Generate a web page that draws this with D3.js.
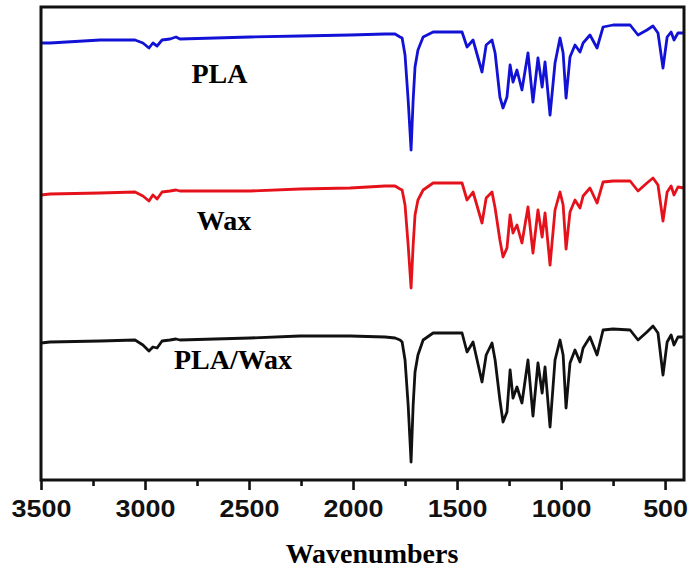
<!DOCTYPE html>
<html>
<head>
<meta charset="utf-8">
<script src="https://cdn.jsdelivr.net/npm/d3@7"></script>
<style>
  body { margin: 0; background: #fff; }
</style>
</head>
<body>
<div id="app"></div>
<script>
// wavenumbers (cm-1), shared by the three spectra
const wavenumbers = [3500, 3457, 3216, 3048, 3010, 2981, 2962, 2942, 2918, 2880, 2851, 2832, 2495, 2255, 2014,
  1846, 1798, 1774, 1764, 1750, 1735, 1721, 1711, 1702, 1688, 1663, 1615, 1476, 1452, 1423, 1380, 1360, 1332,
  1317, 1294, 1279, 1260, 1245, 1231, 1212, 1188, 1159, 1135, 1111, 1091, 1077, 1053, 1029, 1005, 990, 976,
  957, 933, 909, 894, 861, 827, 798, 750, 668, 630, 587, 558, 534, 510, 490, 471, 457, 438, 409]

// transmittance, arbitrary units (stacked)
const pla = [437, 437, 440, 440, 437, 432, 437, 434, 440, 441, 443, 441, 443, 444, 445,
  446, 446, 443, 442, 425, 380, 330, 380, 413, 430, 443, 448, 448, 433, 440, 408, 435, 440,
  427, 383, 372, 383, 415, 398, 410, 390, 427, 378, 422, 393, 418, 365, 417, 442, 427, 382,
  423, 435, 428, 437, 445, 432, 453, 455, 455, 445, 450, 454, 447, 412, 443, 448, 440, 447, 447]

const wax = [285, 286, 287, 288, 284, 279, 285, 281, 288, 289, 290, 289, 289, 291, 292,
  294, 294, 291, 290, 275, 235, 192, 235, 265, 280, 290, 297, 297, 280, 288, 257, 282, 288,
  272, 240, 223, 232, 265, 247, 255, 237, 273, 227, 270, 243, 267, 215, 270, 288, 275, 231,
  268, 280, 272, 284, 292, 277, 298, 299, 299, 289, 297, 302, 295, 259, 288, 294, 285, 293, 292]

const plaWax = [137, 138, 139, 140, 135, 129, 133, 132, 139, 140, 141, 140, 142, 144, 144,
  143, 142, 140, 138, 120, 75, 18, 75, 108, 125, 140, 147, 147, 128, 138, 98, 125, 137,
  120, 80, 58, 68, 110, 82, 93, 77, 120, 64, 117, 87, 113, 53, 120, 140, 125, 72,
  117, 130, 118, 132, 143, 125, 150, 151, 150, 140, 148, 154, 147, 105, 138, 145, 135, 143, 143]

const seriesNames = ['PLA', 'Wax', 'PLA/Wax']
const majorTicks = [3500, 3000, 2500, 2000, 1500, 1000, 500]
const minorTicks = [3250, 2750, 2250, 1750, 1250, 750]

const w = 693
const h = 571

const xScale = d3.scaleLinear()
                  .domain([3500, 409])
                  .range([41, 684])

const yScale = d3.scaleLinear()
                  .domain([0, 473])
                  .range([480, 7])

const svg = d3.select('#app')
  .append('svg')
  .attr('width', w)
  .attr('height', h)
  .style('display', 'block')

const series = [
  { name: seriesNames[0], values: pla, color: '#1212d6', at: [2642, 397] },
  { name: seriesNames[1], values: wax, color: '#e5121b', at: [2620, 250] },
  { name: seriesNames[2], values: plaWax, color: '#111111', at: [2577, 111] }
]

const line = d3.line()
  .x(d => xScale(d[0]))
  .y(d => yScale(d[1]))

svg.selectAll('path.trace')
  .data(series)
  .enter()
  .append('path')
  .attr('class', 'trace')
  .attr('d', s => line(wavenumbers.map((wn, i) => [wn, s.values[i]])))
  .attr('fill', 'none')
  .attr('stroke', s => s.color)
  .attr('stroke-width', 2.8)
  .attr('stroke-linejoin', 'round')

// frame
svg.append('rect')
  .attr('x', xScale.range()[0])
  .attr('y', yScale.range()[1])
  .attr('width', xScale.range()[1] - xScale.range()[0])
  .attr('height', yScale.range()[0] - yScale.range()[1])
  .attr('fill', 'none')
  .attr('stroke', '#111')
  .attr('stroke-width', 3)

const xAxis = d3.axisBottom(xScale)
  .tickValues(majorTicks)
  .tickFormat(d3.format('d'))
  .tickSize(10)
  .tickSizeOuter(0)
  .tickPadding(11)

const gx = svg.append('g')
  .attr('id', 'x-axis')
  .attr('transform', 'translate(0, ' + yScale(0) + ')')
  .call(xAxis)

gx.select('.domain').remove()
gx.selectAll('line').attr('stroke', '#111').attr('stroke-width', 2.6)
gx.selectAll('text')
  .attr('fill', '#111')
  .style('font-family', '"Liberation Sans", Arial, sans-serif')
  .style('font-weight', 'bold')
  .style('font-size', '23px')
  .attr('transform', 'scale(1.17, 1)')

const gMinor = svg.append('g')
  .attr('transform', 'translate(0, ' + yScale(0) + ')')
  .call(d3.axisBottom(xScale).tickValues(minorTicks).tickSize(6).tickSizeOuter(0).tickFormat(''))

gMinor.select('.domain').remove()
gMinor.selectAll('line').attr('stroke', '#111').attr('stroke-width', 2.6)

// series labels
svg.selectAll('text.label')
  .data(series)
  .enter()
  .append('text')
  .attr('class', 'label')
  .attr('x', s => xScale(s.at[0]))
  .attr('y', s => yScale(s.at[1]))
  .attr('text-anchor', 'middle')
  .style('font-family', '"Liberation Serif", "Times New Roman", serif')
  .style('font-weight', 'bold')
  .style('font-size', '28px')
  .attr('fill', '#000')
  .text(s => s.name)

svg.append('text')
  .attr('x', 372)
  .attr('y', 563)
  .attr('text-anchor', 'middle')
  .style('font-family', '"Liberation Serif", "Times New Roman", serif')
  .style('font-weight', 'bold')
  .style('font-size', '28px')
  .attr('fill', '#000')
  .text('Wavenumbers')
</script>
</body>
</html>
